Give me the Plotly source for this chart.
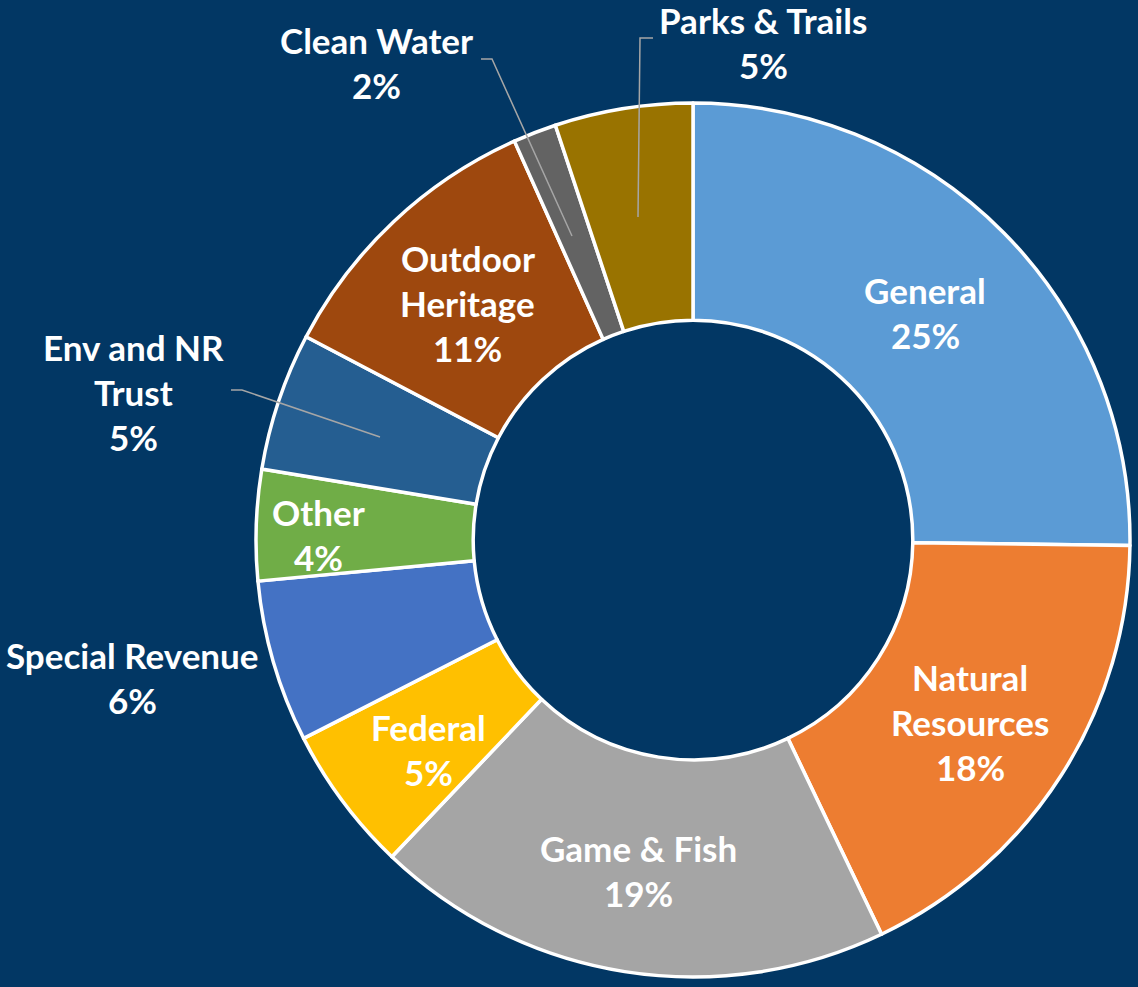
import plotly.graph_objects as go

# ---- data ----
funds = ["General", "Natural Resources", "Game & Fish", "Federal", "Special Revenue",
         "Other", "Env and NR Trust", "Outdoor Heritage", "Clean Water", "Parks & Trails"]
shares = [25.2, 17.7, 19.2, 5.4, 6.0, 4.1, 5.1, 10.6, 1.6, 5.1]
colors = ["#5B9BD5", "#ED7D31", "#A5A5A5", "#FFC000", "#4472C4",
          "#70AD47", "#255E91", "#9E480E", "#636363", "#997300"]
# label text lines (name split as in the reference)
label_lines = [["General"], ["Natural", "Resources"], ["Game & Fish"], ["Federal"],
               ["Special Revenue"], ["Other"], ["Env and NR", "Trust"],
               ["Outdoor", "Heritage"], ["Clean Water"], ["Parks & Trails"]]
# label anchor (pixel centre of first line)
label_pos = [(925, 290), (970, 677), (638, 848), (428, 727), (132, 655),
             (318, 512), (133, 347), (468, 258), (376, 40), (763, 20)]
# leader lines for outside labels (pixel points)
leaders = {
    "Clean Water": [(481, 59), (492, 59), (572, 236)],
    "Parks & Trails": [(653, 38), (640, 38), (638, 217)],
    "Env and NR Trust": [(231, 390), (242, 390), (380, 437)],
}

W, H = 1138, 987
BG = "#023764"
LINE_STEP = 45

def px(x):
    return x / W

def py(y):
    return 1 - y / H

total = sum(shares)
cx, cy, R = 693, 540, 437

fig = go.Figure(go.Pie(
    labels=funds, values=shares, sort=False, direction="clockwise", rotation=0,
    hole=0.503, textinfo="none", hoverinfo="label+percent",
    marker=dict(colors=colors, line=dict(color="white", width=3.5)),
    domain=dict(x=[px(cx - R), px(cx + R)], y=[py(cy + R), py(cy - R)]),
    showlegend=False,
))

annotations = []
for name, lines, v, (x0, y0) in zip(funds, label_lines, shares, label_pos):
    pct = f"{round(v / total * 100):d}%"
    for i, t in enumerate(lines + [pct]):
        annotations.append(dict(
            x=px(x0), y=py(y0 + i * LINE_STEP), xref="paper", yref="paper",
            text=t, showarrow=False, xanchor="center", yanchor="middle",
            borderpad=0,
            font=dict(family="Lato", size=35, color="white", weight="bold"),
        ))

shapes = []
for name, pts in leaders.items():
    path = "M " + " L ".join(f"{px(x)},{py(y)}" for x, y in pts)
    shapes.append(dict(type="path", xref="paper", yref="paper", path=path,
                       line=dict(color="#A6A6A6", width=1.5)))

fig.update_layout(
    width=W, height=H, margin=dict(l=0, r=0, t=0, b=0),
    paper_bgcolor=BG, plot_bgcolor=BG,
    annotations=annotations, shapes=shapes,
)

fig.write_html("out.html", config={"displayModeBar": False},
               post_script="document.body.style.margin='0';document.body.style.overflow='hidden';")
